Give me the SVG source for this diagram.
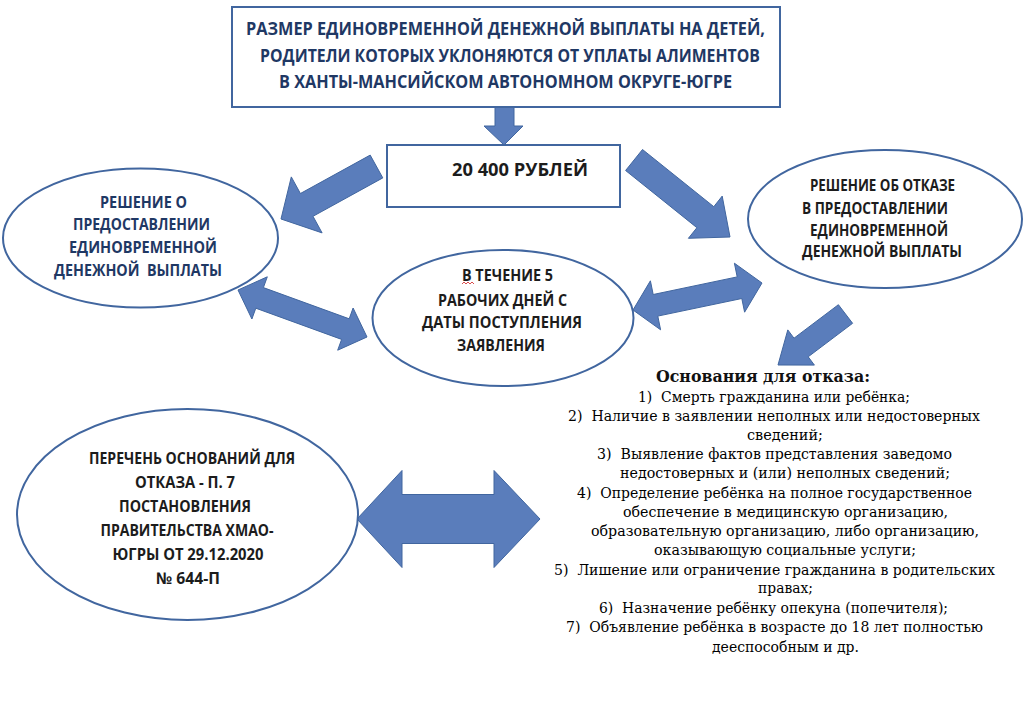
<svg xmlns="http://www.w3.org/2000/svg" width="1024" height="725" viewBox="0 0 1024 725">
<style>
.box{fill:#fff;stroke:#41669F;stroke-width:2}
.arr{fill:#5A7DBB;stroke:#41669F;stroke-width:1;stroke-linejoin:miter}
.h{font-family:"Open Sans","Liberation Sans",sans-serif;font-weight:700;text-anchor:middle}
.navy{fill:#1F3864}
.blk{fill:#1c1c1c}
.t{font-family:"DejaVu Serif","Liberation Serif",serif;font-size:15px;fill:#000;text-anchor:middle;white-space:pre}
.tt{font-family:"DejaVu Serif","Liberation Serif",serif;font-size:17px;font-weight:700;fill:#111;text-anchor:middle}
</style>
<rect width="1024" height="725" fill="#fff"/>

<g id="connectors">
<polygon class="arr" points="495,107 514,107 514,126 523,126 504,145 484,126 495,126"/>
<polygon class="arr" points="370.2,155.1 300.4,193.5 291.3,176.9 281,219 322.1,232.9 313,216.3 382.8,177.9"/>
<polygon class="arr" points="642.5,149.5 713.8,206.7 722.2,196.1 730,237 688.4,238.3 696.9,227.7 625.6,170.5"/>
<polygon class="arr" points="238,290 267.3,276.8 263.4,287.6 349.2,318.8 353.1,308 367,337 337.7,350.2 341.6,339.4 255.8,308.2 251.9,319"/>
<polygon class="arr" points="633,310 650.4,280.8 653.2,294.5 737.2,276.9 734.4,263.2 762,283 744.6,312.2 741.8,298.5 657.8,316.1 660.6,329.8"/>
<polygon class="arr" points="838.4,304.7 794,338.2 787.8,329.9 778,365 814.4,365.1 808.2,356.8 852.6,323.3"/>
<polygon class="arr" points="357,519 402,470.5 402,494.5 494,494.5 494,470.5 540,519 494,567.5 494,543.5 402,543.5 402,567.5"/>
</g>

<g id="title">
<rect class="box" x="232" y="7" width="548" height="100"/>
<text class="h navy" font-size="18" x="505.5" y="35" textLength="519" lengthAdjust="spacingAndGlyphs">РАЗМЕР ЕДИНОВРЕМЕННОЙ ДЕНЕЖНОЙ ВЫПЛАТЫ НА ДЕТЕЙ,</text>
<text class="h navy" font-size="18" x="510" y="62" textLength="500" lengthAdjust="spacingAndGlyphs">РОДИТЕЛИ КОТОРЫХ УКЛОНЯЮТСЯ ОТ УПЛАТЫ АЛИМЕНТОВ</text>
<text class="h navy" font-size="18" x="505.5" y="88" textLength="453" lengthAdjust="spacingAndGlyphs">В ХАНТЫ-МАНСИЙСКОМ АВТОНОМНОМ ОКРУГЕ-ЮГРЕ</text>
</g>

<g id="amount">
<rect class="box" x="387" y="145" width="233" height="62"/>
<text class="h blk" font-size="18" x="520" y="176" textLength="136" lengthAdjust="spacingAndGlyphs">20 400 РУБЛЕЙ</text>
</g>

<g id="grant">
<ellipse class="box" cx="140.5" cy="238" rx="137.5" ry="69.5"/>
<text class="h navy" font-size="16.5" x="143.5" y="208" textLength="87" lengthAdjust="spacingAndGlyphs">РЕШЕНИЕ О</text>
<text class="h navy" font-size="16.5" x="141.5" y="230" textLength="137" lengthAdjust="spacingAndGlyphs">ПРЕДОСТАВЛЕНИИ</text>
<text class="h navy" font-size="16.5" x="143" y="253" textLength="148" lengthAdjust="spacingAndGlyphs">ЕДИНОВРЕМЕННОЙ</text>
<text class="h navy" font-size="16.5" x="138" y="276" textLength="168" lengthAdjust="spacingAndGlyphs" style="white-space:pre">ДЕНЕЖНОЙ  ВЫПЛАТЫ</text>
</g>

<g id="refusal">
<ellipse class="box" cx="885" cy="219" rx="137" ry="69"/>
<text class="h blk" font-size="15.5" x="882.5" y="191" textLength="145" lengthAdjust="spacingAndGlyphs">РЕШЕНИЕ ОБ ОТКАЗЕ</text>
<text class="h blk" font-size="15.5" x="875" y="213.5" textLength="146" lengthAdjust="spacingAndGlyphs">В ПРЕДОСТАВЛЕНИИ</text>
<text class="h blk" font-size="15.5" x="879" y="235.5" textLength="138" lengthAdjust="spacingAndGlyphs">ЕДИНОВРЕМЕННОЙ</text>
<text class="h blk" font-size="15.5" x="882" y="257" textLength="160" lengthAdjust="spacingAndGlyphs">ДЕНЕЖНОЙ ВЫПЛАТЫ</text>
</g>

<g id="term">
<ellipse class="box" cx="503" cy="318" rx="130.5" ry="68"/>
<text class="h blk" font-size="15.5" x="507.5" y="280.5" textLength="91" lengthAdjust="spacingAndGlyphs">В ТЕЧЕНИЕ 5</text>
<polyline points="462,284 464,282 466,284 468,282 470,284 472,282 474,284" fill="none" stroke="#d02020" stroke-width="0.8"/>
<text class="h blk" font-size="15.5" x="502.5" y="305.5" textLength="129" lengthAdjust="spacingAndGlyphs">РАБОЧИХ ДНЕЙ С</text>
<text class="h blk" font-size="15.5" x="502" y="327.5" textLength="160" lengthAdjust="spacingAndGlyphs">ДАТЫ ПОСТУПЛЕНИЯ</text>
<text class="h blk" font-size="15.5" x="501" y="350.5" textLength="88" lengthAdjust="spacingAndGlyphs">ЗАЯВЛЕНИЯ</text>
</g>

<g id="basis">
<ellipse class="box" cx="187.5" cy="514.5" rx="170.5" ry="105.5"/>
<text class="h blk" font-size="16" x="192" y="464" textLength="206" lengthAdjust="spacingAndGlyphs">ПЕРЕЧЕНЬ ОСНОВАНИЙ ДЛЯ</text>
<text class="h blk" font-size="16" x="185" y="488" textLength="100" lengthAdjust="spacingAndGlyphs">ОТКАЗА - П. 7</text>
<text class="h blk" font-size="16" x="185" y="512" textLength="132" lengthAdjust="spacingAndGlyphs">ПОСТАНОВЛЕНИЯ</text>
<text class="h blk" font-size="16" x="187" y="536" textLength="173" lengthAdjust="spacingAndGlyphs">ПРАВИТЕЛЬСТВА ХМАО-</text>
<text class="h blk" font-size="16" x="188" y="560" textLength="151" lengthAdjust="spacingAndGlyphs">ЮГРЫ ОТ 29.12.2020</text>
<text class="h blk" font-size="16" x="188" y="584" textLength="64" lengthAdjust="spacingAndGlyphs">№ 644-П</text>
</g>

<g id="reasons">
<text class="tt" x="763" y="382" textLength="214" lengthAdjust="spacingAndGlyphs">Основания для отказа:</text>
<text class="t" xml:space="preserve" x="774" y="402" textLength="272" lengthAdjust="spacingAndGlyphs">1)  Смерть гражданина или ребёнка;</text>
<text class="t" xml:space="preserve" x="774" y="421" textLength="412" lengthAdjust="spacingAndGlyphs">2)  Наличие в заявлении неполных или недостоверных</text>
<text class="t" x="785" y="440" textLength="76" lengthAdjust="spacingAndGlyphs">сведений;</text>
<text class="t" xml:space="preserve" x="774.5" y="459" textLength="355" lengthAdjust="spacingAndGlyphs">3)  Выявление фактов представления заведомо</text>
<text class="t" x="785" y="478" textLength="330" lengthAdjust="spacingAndGlyphs">недостоверных и (или) неполных сведений;</text>
<text class="t" xml:space="preserve" x="774.5" y="498" textLength="395" lengthAdjust="spacingAndGlyphs">4)  Определение ребёнка на полное государственное</text>
<text class="t" x="785.5" y="517" textLength="325" lengthAdjust="spacingAndGlyphs">обеспечение в медицинскую организацию,</text>
<text class="t" x="785" y="536" textLength="388" lengthAdjust="spacingAndGlyphs">образовательную организацию, либо организацию,</text>
<text class="t" x="785" y="555" textLength="262" lengthAdjust="spacingAndGlyphs">оказывающую социальные услуги;</text>
<text class="t" xml:space="preserve" x="774.5" y="575" textLength="441" lengthAdjust="spacingAndGlyphs">5)  Лишение или ограничение гражданина в родительских</text>
<text class="t" x="785.5" y="593" textLength="55" lengthAdjust="spacingAndGlyphs">правах;</text>
<text class="t" xml:space="preserve" x="773.5" y="613" textLength="349" lengthAdjust="spacingAndGlyphs">6)  Назначение ребёнку опекуна (попечителя);</text>
<text class="t" xml:space="preserve" x="774.5" y="632" textLength="417" lengthAdjust="spacingAndGlyphs">7)  Объявление ребёнка в возрасте до 18 лет полностью</text>
<text class="t" x="785.5" y="652" textLength="147" lengthAdjust="spacingAndGlyphs">дееспособным и др.</text>
</g>
</svg>
